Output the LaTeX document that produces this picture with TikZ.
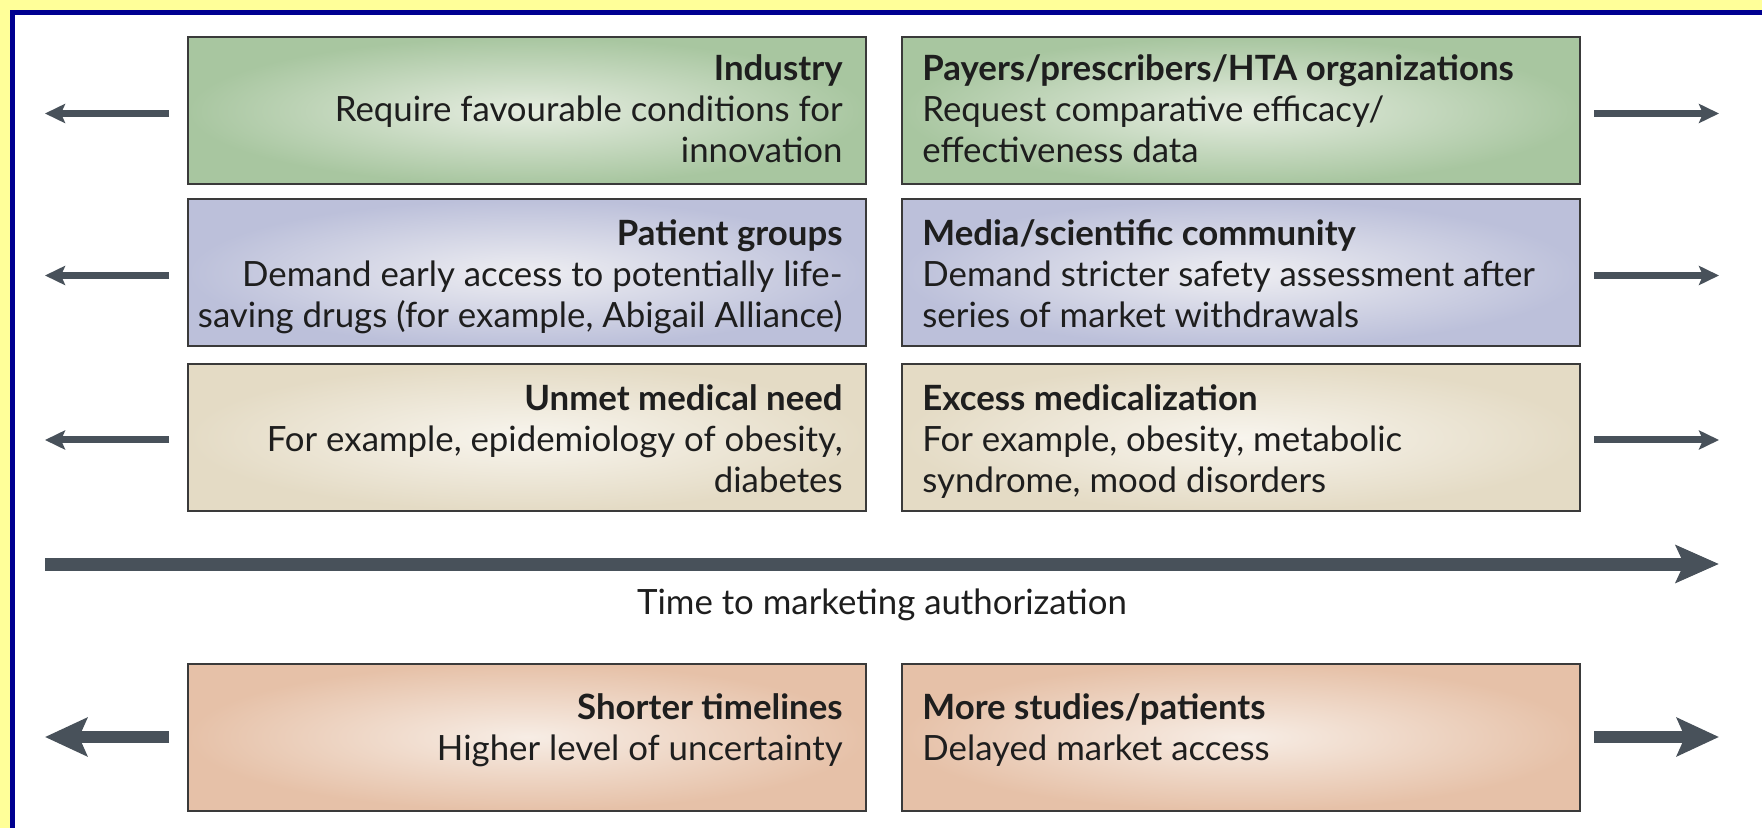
\documentclass[tikz,border=0pt]{standalone}
\usepackage{fontspec}
\setmainfont{Lato}
\usetikzlibrary{arrows.meta}
\definecolor{bgyellow}{HTML}{FFFF99}
\definecolor{framenavy}{HTML}{000090}
\definecolor{arrcol}{HTML}{48515A}
\definecolor{boxline}{HTML}{3A3A3A}
\definecolor{txtcol}{HTML}{1E1E1E}
\definecolor{gOut}{HTML}{A8C6A0}
\definecolor{gIn}{HTML}{E6EDE1}
\definecolor{bOut}{HTML}{BCC0DA}
\definecolor{bIn}{HTML}{EEEEF2}
\definecolor{yOut}{HTML}{E4DBC5}
\definecolor{yIn}{HTML}{F8F5EE}
\definecolor{sOut}{HTML}{E6C1A8}
\definecolor{sIn}{HTML}{F7EDE5}
\tikzset{
  box/.style={draw=boxline, line width=1pt, minimum width=339pt, minimum height=73.5pt, inner sep=0pt},
  greenbox/.style={box, inner color=gIn, outer color=gOut},
  bluebox/.style={box, inner color=bIn, outer color=bOut},
  beigebox/.style={box, inner color=yIn, outer color=yOut},
  salmonbox/.style={box, inner color=sIn, outer color=sOut},
  txt/.style={inner sep=0pt, text=txtcol, font=\fontsize{17.4}{20.6}\selectfont},
  ltext/.style={txt, anchor=east, align=right},
  rtext/.style={txt, anchor=west, align=left},
  larrow/.style={draw=arrcol, line width=3.5pt, -{Stealth[length=10pt, width=9.5pt, inset=2pt]}, shorten <=9pt},
  rarrow/.style={draw=arrcol, line width=3.5pt, -{Stealth[length=10pt, width=9.5pt, inset=2pt]}, shorten <=6.5pt},
  lbarrow/.style={draw=arrcol, line width=6pt, -{Stealth[length=21pt, width=19pt, inset=4pt]}, shorten <=9pt},
  rbarrow/.style={draw=arrcol, line width=6pt, -{Stealth[length=21pt, width=19pt, inset=4pt]}, shorten <=6.5pt},
  timearrow/.style={draw=arrcol, line width=6.5pt, -{Stealth[length=21.5pt, width=18.5pt, inset=4pt]}}
}
\begin{document}
\begin{tikzpicture}[x=0.5pt, y=-0.5pt]
\useasboundingbox (0,0) rectangle (1762,828);
\clip (0,0) rectangle (1762,828);
\fill[bgyellow] (0,0) rectangle (1762,828);
\fill[framenavy] (10,10) rectangle (1800,900);
\fill[white] (15,15) rectangle (1800,900);

% boxes
\node[greenbox] (ind) at (527,111) {};
\node[greenbox] (pay) at (1241,111) {};
\node[bluebox] (pat) at (527,273) {};
\node[bluebox] (med) at (1241,273) {};
\node[beigebox] (unm) at (527,437.5) {};
\node[beigebox] (exc) at (1241,437.5) {};
\node[salmonbox] (sho) at (527,737) {};
\node[salmonbox] (mor) at (1241,737) {};

% texts
\node[ltext] (indt) at (843,113.5) {\strut\textbf{Industry}\\Require favourable conditions for\\innovation\strut};
\node[rtext] (payt) at (922,113.5) {\strut\textbf{Payers/prescribers/HTA organizations}\\Request comparative efficacy/\\effectiveness data\strut};
\node[ltext] (patt) at (843,278.5) {\strut\textbf{Patient groups}\\Demand early access to potentially life-\\saving drugs (for example, Abigail Alliance)\strut};
\node[rtext] (medt) at (922,278.5) {\strut\textbf{Media/scientific community}\\Demand stricter safety assessment after\\series of market withdrawals\strut};
\node[ltext] (unmt) at (843,443.5) {\strut\textbf{Unmet medical need}\\For example, epidemiology of obesity,\\diabetes\strut};
\node[rtext] (exct) at (922,443.5) {\strut\textbf{Excess medicalization}\\For example, obesity, metabolic\\syndrome, mood disorders\strut};
\node[ltext] (shot) at (843,732) {\strut\textbf{Shorter timelines}\\Higher level of uncertainty\strut};
\node[rtext] (mort) at (922,732) {\strut\textbf{More studies/patients}\\Delayed market access\strut};

% arrow end points
\coordinate (l1) at (45,113.5);
\coordinate (r1) at (1719,113.5);
\coordinate (l2) at (45,275.5);
\coordinate (r2) at (1719,275.5);
\coordinate (l3) at (45,440);
\coordinate (r3) at (1719,440);
\coordinate (l4) at (45,737);
\coordinate (r4) at (1719,737);
\coordinate (ts) at (45,564);
\coordinate (te) at (1719,564);

\draw[larrow] ([yshift=-1.25pt]ind.west) -- (l1);
\draw[rarrow] ([yshift=-1.25pt]pay.east) -- (r1);
\draw[larrow] ([yshift=-1.25pt]pat.west) -- (l2);
\draw[rarrow] ([yshift=-1.25pt]med.east) -- (r2);
\draw[larrow] ([yshift=-1.25pt]unm.west) -- (l3);
\draw[rarrow] ([yshift=-1.25pt]exc.east) -- (r3);
\draw[lbarrow] (sho.west) -- (l4);
\draw[rbarrow] (mor.east) -- (r4);

\draw[timearrow] (ts) -- (te);
\node[txt, anchor=base] (tlab) at (882,614) {Time to marketing authorization};
\end{tikzpicture}
\end{document}
